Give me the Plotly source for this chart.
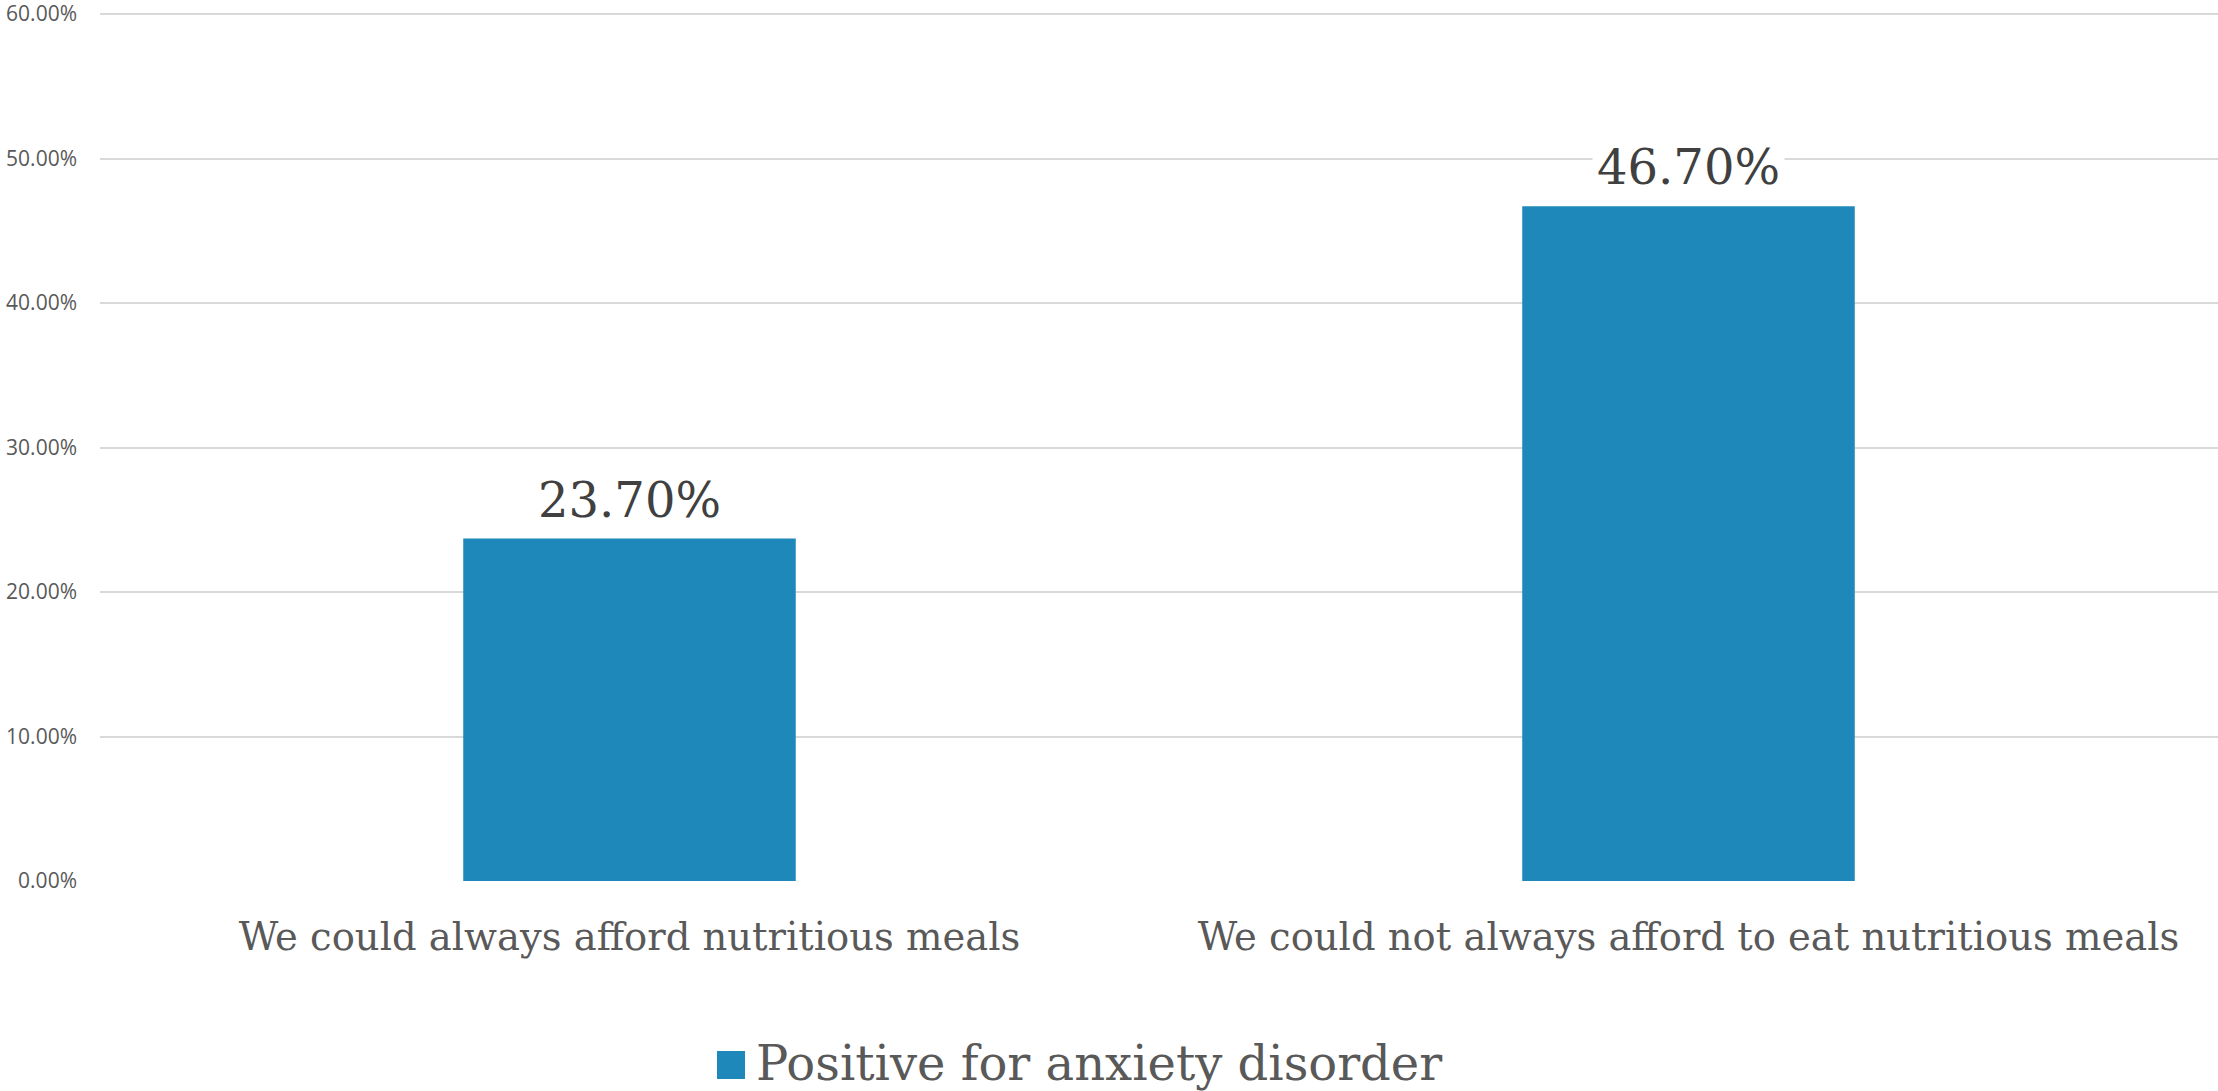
import plotly.graph_objects as go

# Survey categories and share of respondents positive for anxiety disorder
categories = [
    "We could always afford nutritious meals",
    "We could not always afford to eat nutritious meals",
]
anxiety_positive = [0.237, 0.467]
series_name = "Positive for anxiety disorder"
y_ticks = [0.0, 0.1, 0.2, 0.3, 0.4, 0.5, 0.6]

BAR_COLOR = "#1f88ba"
SLAB = "Rockwell, 'DejaVu Serif', serif"

# Plot area in pixels (used to place the legend swatch below the axis)
W, H = 2218, 1091
L, R, T, B = 100, 0, 13, 210
PW, PH = W - L - R, H - T - B


def px_x(px):
    return (px - L) / PW


def px_y(py):
    return (H - B - py) / PH


fig = go.Figure()
fig.add_trace(
    go.Bar(
        x=categories,
        y=anxiety_positive,
        name=series_name,
        marker=dict(color=BAR_COLOR, line=dict(width=0)),
        showlegend=False,
    )
)

# Value labels above each bar, on a white box so the gridline breaks behind them
for cat, val in zip(categories, anxiety_positive):
    fig.add_annotation(
        x=cat,
        y=val,
        text=f"{val * 100:.2f}%",
        showarrow=False,
        yanchor="bottom",
        yshift=6,
        bgcolor="white",
        borderpad=4,
        font=dict(family=SLAB, size=48, color="#404040"),
    )

# Legend: square swatch plus series name, centred under the chart
fig.add_shape(
    type="rect",
    xref="paper", yref="paper",
    x0=px_x(717), x1=px_x(745),
    y0=px_y(1079), y1=px_y(1051),
    fillcolor=BAR_COLOR,
    line=dict(width=0),
)
fig.add_annotation(
    xref="paper", yref="paper",
    x=px_x(754), y=px_y(1063),
    xanchor="left", yanchor="middle",
    text=series_name,
    showarrow=False,
    font=dict(family=SLAB, size=48, color="#595959"),
)

fig.update_layout(
    width=W,
    height=H,
    margin=dict(l=L, r=R, t=T, b=B, autoexpand=False),
    paper_bgcolor="white",
    plot_bgcolor="white",
    bargap=0.686,
    showlegend=False,
    xaxis=dict(
        type="category",
        automargin=False,
        showgrid=False,
        showline=False,
        zeroline=False,
        ticks="",
        ticklabelstandoff=29,
        tickfont=dict(family=SLAB, size=38.5, color="#595959"),
    ),
    yaxis=dict(
        range=[0, 0.6007],
        tickvals=y_ticks,
        tickformat=".2%",
        automargin=False,
        showgrid=True,
        gridcolor="#d9d9d9",
        gridwidth=2,
        zeroline=False,
        showline=False,
        ticks="",
        ticklabelstandoff=22,
        ticklabeloverflow="allow",
        tickfont=dict(family="'Open Sans', sans-serif", size=21, color="#595959"),
    ),
)

fig.write_html("out.html")
